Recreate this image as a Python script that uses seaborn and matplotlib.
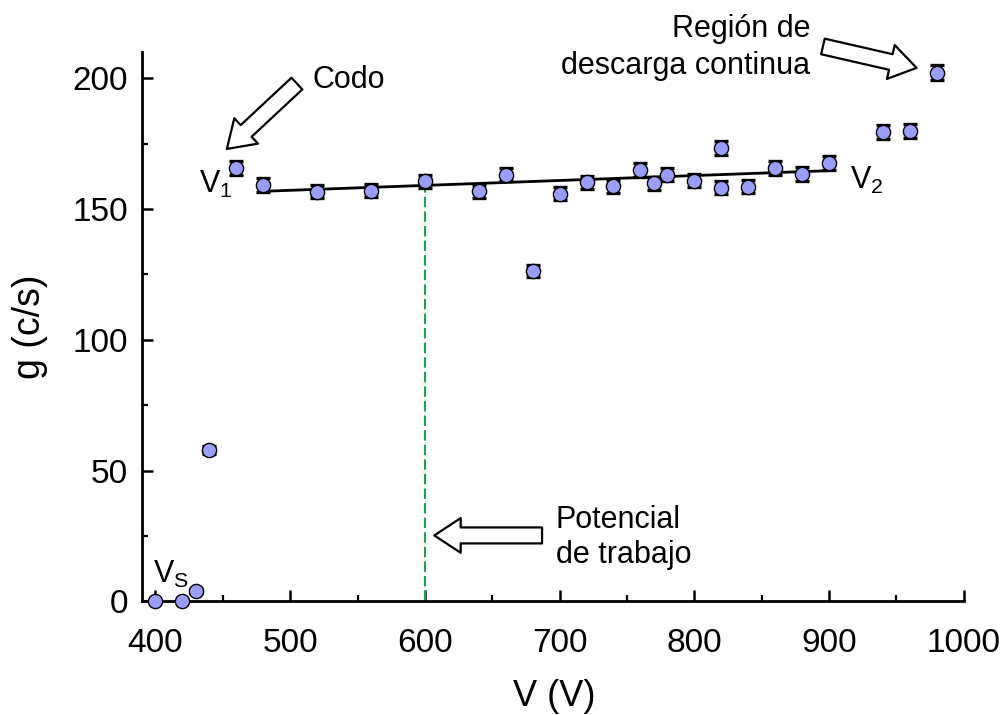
"""
Geiger plateau: counting rate g vs. applied voltage V
- saves out.png
"""

import matplotlib
matplotlib.use("Agg")
import matplotlib.pyplot as plt
import numpy as np
import pandas as pd
import seaborn as sns

# measured points
voltage = [400, 420, 430, 440, 460, 480, 520, 560, 600, 640, 660, 680, 700,
           720, 740, 760, 770, 780, 800, 820, 820, 840, 860, 880, 900, 940, 960, 980]
rate = [0.0, 0.0, 4.0, 57.8, 165.8, 159.2, 156.6, 157.0, 160.6, 156.9, 163.2, 126.3, 155.8,
        160.3, 158.7, 165.0, 159.8, 163.2, 160.8, 173.4, 158.2, 158.5, 165.7, 163.5, 167.7,
        179.4, 179.8, 202.2]
rate_err = [0.0, 0.0, 0.8, 1.5, 2.6, 2.5, 2.5, 2.5, 2.5, 2.5, 2.6, 2.2, 2.5,
            2.5, 2.5, 2.6, 2.5, 2.6, 2.5, 2.6, 2.5, 2.5, 2.6, 2.6, 2.6,
            2.7, 2.7, 2.8]

# plateau fit (endpoints)
fit_v = [480, 900]
fit_g = [156.8, 164.7]

work_v = 600
work_top = 158.5

xticks = [400, 500, 600, 700, 800, 900, 1000]
yticks = [0, 50, 100, 150, 200]

df = pd.DataFrame({"V": voltage, "g": rate, "err": rate_err})

sns.set_style("ticks")
plt.rcParams["font.family"] = ["Liberation Sans", "DejaVu Sans"]
plt.rcParams["mathtext.fontset"] = "custom"
plt.rcParams["mathtext.rm"] = "Liberation Sans"
for key in ["text.color", "axes.labelcolor", "xtick.color", "ytick.color", "axes.edgecolor"]:
    plt.rcParams[key] = "black"

fig = plt.figure(figsize=(10.07, 7.15), dpi=100)
ax = fig.add_axes([0.141, 0.159, 0.816, 0.768])

# working potential marker
ax.plot([work_v, work_v], [0, work_top], color="#1fa055", lw=1.5, ls=(0, (5, 2)), zorder=1)

ax.plot(fit_v, fit_g, color="black", lw=2.0, zorder=2)

ax.errorbar(df["V"], df["g"], yerr=df["err"], fmt="none", ecolor="black",
            elinewidth=1.6, capsize=5, capthick=2.4, zorder=3)
sns.scatterplot(data=df, x="V", y="g", ax=ax, s=105, color="#9c9cfa",
                edgecolor="black", linewidth=1.0, zorder=4, clip_on=False)

ax.set_xlim(390, 1000)
ax.set_ylim(0, 210)
ax.set_xticks(xticks)
ax.set_yticks(yticks)
ax.set_xticks(np.arange(450, 1000, 100), minor=True)
ax.set_yticks(np.arange(25, 210, 50), minor=True)
ax.tick_params(which="major", direction="in", length=8, width=1.8, labelsize=24)
ax.tick_params(axis="x", which="major", pad=19)
ax.tick_params(axis="y", which="major", pad=10)
ax.tick_params(which="minor", direction="in", length=4.5, width=1.6)
for side in ["top", "right"]:
    ax.spines[side].set_visible(False)
for side in ["left", "bottom"]:
    ax.spines[side].set_linewidth(2)

ax.set_xlabel("V (V)", fontsize=26)
ax.set_ylabel("g (c/s)", fontsize=27)
ax.xaxis.set_label_coords(0.5014, -0.141)
ax.yaxis.set_label_coords(-0.114, 0.5)

arrow = dict(arrowstyle="simple,head_length=1.9,head_width=2.5,tail_width=1.15",
             fc="white", ec="black", lw=1.6, shrinkA=0, shrinkB=0, mutation_scale=10)
ax.annotate("", xy=(453, 173), xytext=(505, 198), arrowprops=arrow, annotation_clip=False)
ax.annotate("", xy=(965, 204), xytext=(895.5, 212.2), arrowprops=arrow, annotation_clip=False)
ax.annotate("", xy=(607, 25.2), xytext=(687, 25.2), arrowprops=arrow, annotation_clip=False)

fs = 22
ax.text(516.5, 196.4, "Codo", fontsize=fs, va="baseline", ha="left")
ax.text(886, 216.0, "Región de", fontsize=fs, va="baseline", ha="right", clip_on=False)
ax.text(886, 201.5, "descarga continua", fontsize=fs, va="baseline", ha="right")
ax.text(697, 24.5, "Potencial\nde trabajo", fontsize=fs, va="center", ha="left",
        linespacing=1.2)
ax.text(432.5, 156.1, r"V$_\mathregular{1}$", fontsize=fs, va="baseline", ha="left")
ax.text(915.6, 157.6, r"V$_\mathregular{2}$", fontsize=fs, va="baseline", ha="left")
ax.text(398.3, 7.0, r"V$_\mathregular{S}$", fontsize=fs, va="baseline", ha="left")

plt.savefig("out.png", dpi=100)
plt.close()
